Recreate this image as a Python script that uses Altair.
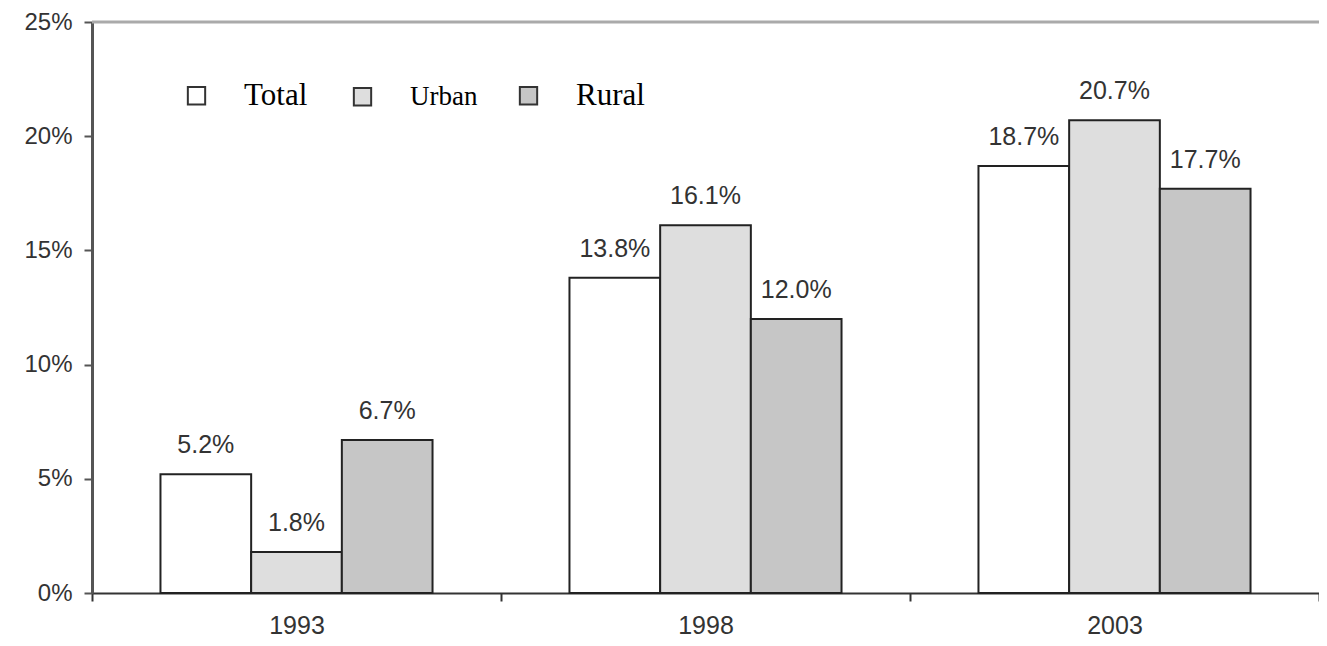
import altair as alt
import pandas as pd

years = ["1993", "1998", "2003"]
series = ["Total", "Urban", "Rural"]
total = [5.2, 13.8, 18.7]
urban = [1.8, 16.1, 20.7]
rural = [6.7, 12.0, 17.7]
y_ticks = [0, 5, 10, 15, 20, 25]
fills = ["#ffffff", "#dedede", "#c6c6c6"]

rows = []
for s, vals in zip(series, [total, urban, rural]):
    for yr, v in zip(years, vals):
        rows.append({"year": yr, "series": s, "value": v})
df = pd.DataFrame(rows)

x = alt.X("year:N", sort=years, title=None,
          scale=alt.Scale(paddingInner=0, paddingOuter=0),
          axis=alt.Axis(labelAngle=0, tickBand="extent", labelFont="Liberation Sans",
                        labelFontSize=25, labelColor="#333333", labelPadding=12,
                        domainColor="#333333", domainWidth=2, tickColor="#333333",
                        tickWidth=2, tickSize=8))
xo = alt.XOffset("series:N", sort=series,
                 scale=alt.Scale(paddingInner=0, paddingOuter=0.755))
y = alt.Y("value:Q", title=None,
          scale=alt.Scale(domain=[0, 25], nice=False),
          axis=alt.Axis(values=y_ticks, labelExpr="datum.value + '%'", grid=False,
                        labelFont="Liberation Sans", labelFontSize=24,
                        labelColor="#333333", labelPadding=12,
                        domainColor="#555555", domainWidth=3, tickColor="#555555",
                        tickWidth=2, tickSize=8))

bars = alt.Chart(df).mark_bar(stroke="#222222", strokeWidth=2).encode(
    x=x, xOffset=xo, y=y,
    fill=alt.Fill("series:N", sort=series,
                  scale=alt.Scale(domain=series, range=fills),
                  legend=alt.Legend(title=None, orient="none", legendX=89, legendY=58,
                                    direction="horizontal", columns=3, gridAlign="all",
                                    symbolType="square", symbolSize=300,
                                    symbolStrokeColor="#333333", symbolStrokeWidth=2,
                                    labelFont="Liberation Serif",
                                    labelFontSize={"expr": "datum.label === 'Urban' ? 27 : 31"},
                                    labelColor="#000000", labelOffset=32,
                                    columnPadding=34, padding=0, labelLimit=200)),
)

labels = alt.Chart(df).transform_calculate(
    label="format(datum.value, '.1f') + '%'"
).mark_text(dy=-21, baseline="alphabetic", font="Liberation Sans", fontSize=25,
            color="#333333").encode(
    x=x, xOffset=xo, y=alt.Y("value:Q"), text="label:N"
)

top_line = alt.Chart(pd.DataFrame({"v": [25]})).mark_rule(
    color="#aaaaaa", strokeWidth=3).encode(y=alt.Y("v:Q"))

chart = alt.layer(bars, labels, top_line).properties(
    width=1227, height=571,
    autosize=alt.AutoSizeParams(type="none"),
    padding={"left": 84, "top": 14, "right": 0, "bottom": 45},
).configure_view(stroke=None).configure(background="white")

chart.save("out.html", embed_options={"renderer": "svg", "actions": False})
